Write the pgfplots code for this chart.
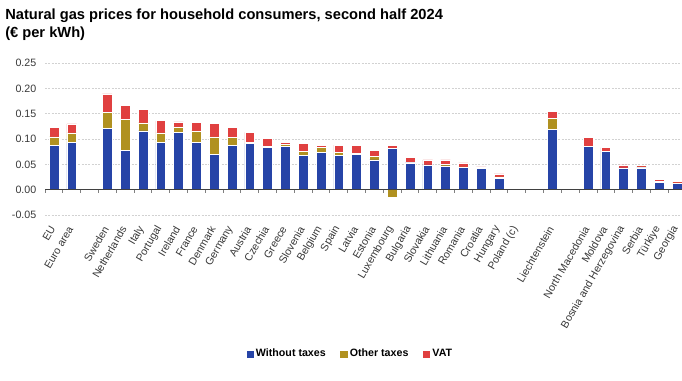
\documentclass[border=0pt]{standalone}
\usepackage{fontspec}
\setmainfont{Liberation Sans}
\usepackage{pgfplots}
\pgfplotsset{compat=1.18}
\usepackage{pgfplotstable}
\definecolor{cblue}{HTML}{2644A7}
\definecolor{cgold}{HTML}{B09120}
\definecolor{cred}{HTML}{E04040}
\pgfplotstableread{
x w o v
0 0.087 0.017 0.019
1 0.093 0.019 0.018
3 0.121 0.031 0.037
4 0.078 0.060 0.028
5 0.116 0.016 0.026
6 0.093 0.019 0.024
7 0.113 0.011 0.010
8 0.094 0.022 0.017
9 0.070 0.034 0.027
10 0.087 0.016 0.020
11 0.092 0.002 0.019
12 0.084 0.002 0.015
13 0.086 0.004 0.004
14 0.068 0.007 0.016
15 0.074 0.010 0.004
16 0.068 0.006 0.014
17 0.069 0.003 0.015
18 0.059 0.006 0.013
19 0.082 0.000 0.005
20 0.053 0.001 0.010
21 0.049 0.000 0.010
22 0.047 0.003 0.009
23 0.044 0.001 0.008
24 0.0415 0.002 0.0015
25 0.023 0.002 0.006
28 0.119 0.022 0.013
30 0.086 0.000 0.017
31 0.076 0.000 0.007
32 0.043 0.000 0.006
33 0.043 0.002 0.003
34 0.015 0.001 0.004
35 0.0125 0.001 0.0025
}\datatable
\pgfplotsset{
  common/.style={
    at={(33.75pt,124.5pt)}, anchor=south west,
    scale only axis, width=477.75pt, height=114pt,
    xmin=-0.5, xmax=35.28, ymin=-0.05, ymax=0.25,
  }
}
\begin{document}
\begin{tikzpicture}
\useasboundingbox (0,0) rectangle (511.5pt,285.75pt);
\node[anchor=north west, inner sep=0pt, align=left, font=\bfseries\fontsize{11}{13.2}\selectfont] at (3.75pt,279pt) {Natural gas prices for household consumers, second half 2024\\(€ per kWh)};
\begin{axis}[common,
  ybar stacked, bar width=7.3pt,
  axis line style={draw=none},
  major tick length=0pt,
  ymajorgrids,
  grid style={gray!35, dash pattern=on 1.5pt off 1pt, line width=0.6pt},
  xtick={0,1,3,4,5,6,7,8,9,10,11,12,13,14,15,16,17,18,19,20,21,22,23,24,25,26,28,30,31,32,33,34,35},
  xticklabels={EU,Euro area,Sweden,Netherlands,Italy,Portugal,Ireland,France,Denmark,Germany,Austria,Czechia,Greece,Slovenia,Belgium,Spain,Latvia,Estonia,Luxembourg,Bulgaria,Slovakia,Lithuania,Romania,Croatia,Hungary,Poland (c),Liechtenstein,North Macedonia,Moldova,Bosnia and Herzegovina,Serbia,Türkiye,Georgia},
  ytick={-0.05,0,0.05,0.1,0.15,0.2,0.25},
  ticklabel style={font=\fontsize{8}{9}\selectfont, text=black!78},
  yticklabel style={xshift=-3pt, /pgf/number format/.cd, fixed, fixed zerofill, precision=2, assume math mode=true},
  xticklabel style={xshift=0.75pt, yshift=-6pt, rotate=60, anchor=east},
  legend style={at={(0.48,-0.914)}, anchor=center, draw=none, legend columns=3,
    font=\bfseries\fontsize{8}{9}\selectfont,
    /tikz/every even column/.append style={column sep=9pt}},
]
\addplot[fill=cblue, draw=white, line width=0.4pt, legend image code/.code={\fill[cblue] (0pt,-2.3pt) rectangle (4.6pt,2.3pt);}] table[x=x,y=w] {\datatable};
\addlegendentry{Without taxes}
\addplot[fill=cgold, draw=white, line width=0.4pt, legend image code/.code={\fill[cgold] (0pt,-2.3pt) rectangle (4.6pt,2.3pt);}] table[x=x,y=o] {\datatable};
\addlegendentry{Other taxes}
\addplot[fill=cred, draw=white, line width=0.4pt, legend image code/.code={\fill[cred] (0pt,-2.3pt) rectangle (4.6pt,2.3pt);}] table[x=x,y=v] {\datatable};
\addlegendentry{VAT}
\end{axis}
\begin{axis}[common, hide axis, ybar, bar width=7.3pt, bar shift=0pt]
\addplot[fill=cgold, draw=white, line width=0.4pt] coordinates {(19,-0.0145)};
\draw[black!75, line width=0.8pt] (axis cs:-0.5,0) -- (axis cs:35.28,0);
\pgfplotsinvokeforeach{-0.5,0.5,...,34.5}{\draw[gray, line width=0.6pt] (axis cs:#1,0) -- (axis cs:#1,-0.007);}
\end{axis}
\end{tikzpicture}
\end{document}
